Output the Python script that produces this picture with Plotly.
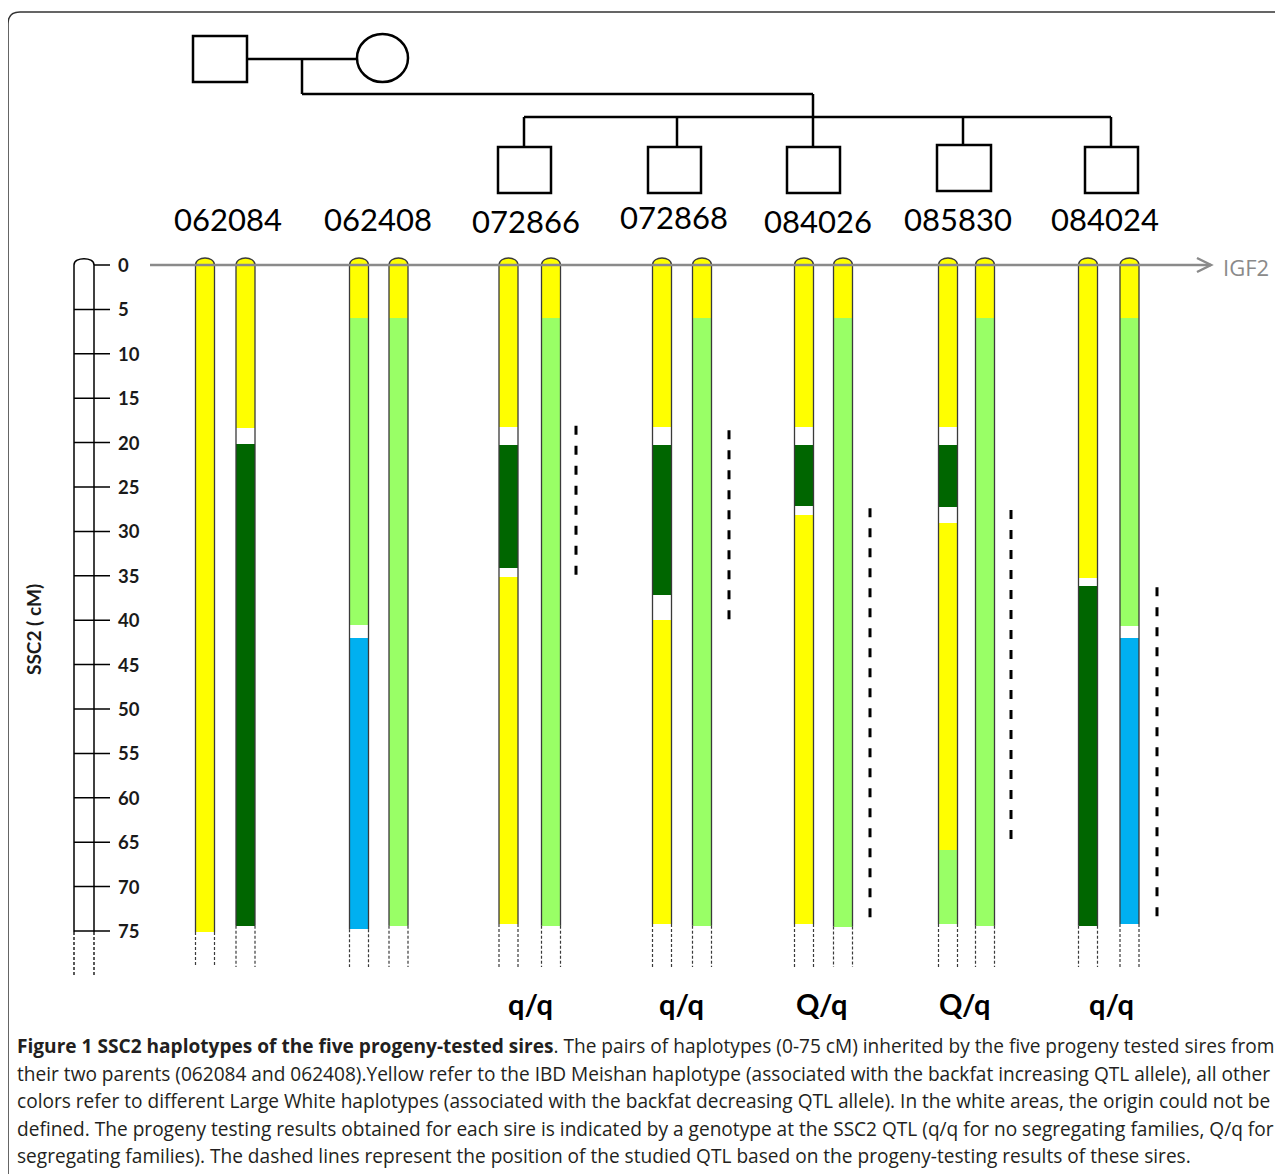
import plotly.graph_objects as go

# ---------------- DATA ----------------
sire_ids = ["062084", "062408", "072866", "072868", "084026", "085830", "084024"]
genotypes = ["", "", "q/q", "q/q", "Q/q", "Q/q", "q/q"]

# haplotype segments: (haplotype class, start cM, end cM)
# M = Meishan (IBD), LW1/LW2/LW3 = Large White haplotypes, U = origin undefined
hap_062084_a = [("M", 0, 75.1)]
hap_062084_b = [("M", 0, 18.4), ("U", 18.4, 20.2), ("LW2", 20.2, 74.4)]
hap_062408_a = [("M", 0, 6.0), ("LW1", 6.0, 40.5), ("U", 40.5, 42.0), ("LW3", 42.0, 74.8)]
hap_062408_b = [("M", 0, 6.0), ("LW1", 6.0, 74.4)]
hap_072866_a = [("M", 0, 18.2), ("U", 18.2, 20.3), ("LW2", 20.3, 34.1), ("U", 34.1, 35.1), ("M", 35.1, 74.2)]
hap_072866_b = [("M", 0, 6.0), ("LW1", 6.0, 74.4)]
hap_072868_a = [("M", 0, 18.2), ("U", 18.2, 20.3), ("LW2", 20.3, 37.2), ("U", 37.2, 40.0), ("M", 40.0, 74.2)]
hap_072868_b = [("M", 0, 6.0), ("LW1", 6.0, 74.4)]
hap_084026_a = [("M", 0, 18.2), ("U", 18.2, 20.3), ("LW2", 20.3, 27.1), ("U", 27.1, 28.1), ("M", 28.1, 74.2)]
hap_084026_b = [("M", 0, 6.0), ("LW1", 6.0, 74.5)]
hap_085830_a = [("M", 0, 18.2), ("U", 18.2, 20.3), ("LW2", 20.3, 27.2), ("U", 27.2, 29.1), ("M", 29.1, 65.9), ("LW1", 65.9, 74.2)]
hap_085830_b = [("M", 0, 6.0), ("LW1", 6.0, 74.4)]
hap_084024_a = [("M", 0, 35.3), ("U", 35.3, 36.1), ("LW2", 36.1, 74.4)]
hap_084024_b = [("M", 0, 6.0), ("LW1", 6.0, 40.6), ("U", 40.6, 42.0), ("LW3", 42.0, 74.2)]

haplotypes = [
    (hap_062084_a, hap_062084_b), (hap_062408_a, hap_062408_b),
    (hap_072866_a, hap_072866_b), (hap_072868_a, hap_072868_b),
    (hap_084026_a, hap_084026_b), (hap_085830_a, hap_085830_b),
    (hap_084024_a, hap_084024_b),
]

# QTL position intervals (cM) from progeny testing, for the five sires
qtl_start = [18.1, 18.6, 27.4, 27.6, 36.3]
qtl_end = [35.1, 40.3, 74.7, 65.5, 73.9]

ruler_ticks = list(range(0, 80, 5))

caption_lines = [
    "<b>Figure 1 SSC2 haplotypes of the five progeny-tested sires</b>. The pairs of haplotypes (0-75 cM) inherited by the five progeny tested sires from",
    "their two parents (062084 and 062408).Yellow refer to the IBD Meishan haplotype (associated with the backfat increasing QTL allele), all other",
    "colors refer to different Large White haplotypes (associated with the backfat decreasing QTL allele). In the white areas, the origin could not be",
    "defined. The progeny testing results obtained for each sire is indicated by a genotype at the SSC2 QTL (q/q for no segregating families, Q/q for",
    "segregating families). The dashed lines represent the position of the studied QTL based on the progeny-testing results of these sires.",
]

# ---------------- STYLE / LAYOUT ----------------
W, H = 1283, 1174
OFF = 8          # page body margin in the browser
PXCM = 8.88      # pixels per cM
Y0PX = 265       # pixel row of 0 cM


def cm(py):
    return (py - Y0PX) / PXCM


hap_colors = {"M": "#FFFF00", "LW1": "#99FF66", "LW2": "#006600", "LW3": "#00B0F0", "U": "#FFFFFF"}
bar_left = [(195.5, 236), (349.5, 389), (499, 541.5), (652.5, 692.5), (794.5, 833.5), (938.5, 975.5), (1078.5, 1120)]
BW = 19
qtl_x = [576, 729, 870, 1011, 1157]
label_x = [228, 378, 526, 674, 818, 958, 1105]
label_y = [219, 219, 221, 217, 221, 219, 219]
geno_x = [530, 681, 822, 965, 1111]
EDGE = "#3a3a3a"
LABEL_FONT = "Lato"

fig = go.Figure()
shapes = []
annotations = []

# chromosome bars (segments)
for sidx, pair in enumerate(haplotypes):
    for hidx, segs in enumerate(pair):
        left = bar_left[sidx][hidx]
        xc = left + BW / 2
        fig.add_trace(go.Bar(
            x=[xc] * len(segs),
            y=[e - s for _, s, e in segs],
            base=[s for _, s, e in segs],
            width=[BW] * len(segs),
            marker=dict(color=[hap_colors[c] for c, _, _ in segs], line=dict(width=0)),
            showlegend=False, hoverinfo="skip",
        ))
        end = segs[-1][2]
        top_col = hap_colors[segs[0][0]]
        k = 1.05
        shapes.append(dict(type="path", xref="x", yref="y",
                           path=f"M {left},0 C {left},{-k} {left+BW},{-k} {left+BW},0 Z",
                           fillcolor=top_col, line=dict(color=EDGE, width=1.3), layer="above"))
        for ex in (left, left + BW):
            shapes.append(dict(type="line", xref="x", yref="y", x0=ex, x1=ex, y0=0, y1=end,
                               line=dict(color=EDGE, width=1.3), layer="above"))
            shapes.append(dict(type="line", xref="x", yref="y", x0=ex, x1=ex, y0=end, y1=cm(967),
                               line=dict(color=EDGE, width=1.2, dash="3px,2px"), layer="above"))

# QTL dashed lines
for i in range(5):
    shapes.append(dict(type="line", xref="x", yref="y", x0=qtl_x[i], x1=qtl_x[i],
                       y0=qtl_start[i], y1=qtl_end[i],
                       line=dict(color="black", width=3, dash="9px,11px"), layer="above"))

# IGF2 line and arrow
GREY = "#8a8a8a"
shapes.append(dict(type="line", xref="x", yref="y", x0=150, x1=1211, y0=0, y1=0,
                   line=dict(color=GREY, width=2.5), layer="above"))
shapes.append(dict(type="path", xref="x", yref="y",
                   path=f"M 1197,{cm(258)} L 1211,0 L 1197,{cm(272)}",
                   line=dict(color=GREY, width=2.5), layer="above"))
annotations.append(dict(x=1221, y=cm(267), xref="x", yref="y", text="IGF2", showarrow=False,
                        xanchor="left", yanchor="middle",
                        font=dict(family="Open Sans", size=22, color=GREY)))

# ruler
RL, RR = 74, 94
shapes.append(dict(type="path", xref="x", yref="y",
                   path=f"M {RL},0 C {RL},{cm(256.5)} {RR},{cm(256.5)} {RR},0",
                   line=dict(color="black", width=1.5)))
for rx in (RL, RR):
    shapes.append(dict(type="line", xref="x", yref="y", x0=rx, x1=rx, y0=0, y1=75.1,
                       line=dict(color="black", width=1.5)))
    shapes.append(dict(type="line", xref="x", yref="y", x0=rx, x1=rx, y0=75.1, y1=cm(977),
                       line=dict(color="black", width=1.3, dash="3px,2px")))
for t in ruler_ticks:
    shapes.append(dict(type="line", xref="x", yref="y", x0=RR if t == 0 else RL, x1=110, y0=t, y1=t,
                       line=dict(color="black", width=1.5)))
    annotations.append(dict(x=116, y=t, xref="x", yref="y", text=str(t), showarrow=False,
                            xanchor="left", yanchor="middle",
                            font=dict(family=LABEL_FONT, size=18.5, color="#1a1a1a", weight="bold")))
annotations.append(dict(x=33, y=cm(630), xref="x", yref="y", text="SSC2 ( cM)", showarrow=False,
                        textangle=-90, xanchor="center", yanchor="middle",
                        font=dict(family=LABEL_FONT, size=19, color="#1a1a1a", weight="bold")))

# sire labels
for i, sid in enumerate(sire_ids):
    annotations.append(dict(x=label_x[i], y=cm(label_y[i]), xref="x", yref="y", text=sid,
                            showarrow=False, xanchor="center", yanchor="middle",
                            font=dict(family=LABEL_FONT, size=31, color="black")))
# genotype labels
for i, g in enumerate(genotypes[2:]):
    annotations.append(dict(x=geno_x[i], y=cm(1003), xref="x", yref="y", text=g,
                            showarrow=False, xanchor="center", yanchor="middle",
                            font=dict(family=LABEL_FONT, size=29, color="black", weight="bold")))

# pedigree
PL = dict(color="black", width=2.5)


def hline(x0, x1, py):
    shapes.append(dict(type="line", xref="x", yref="y", x0=x0, x1=x1, y0=cm(py), y1=cm(py), line=PL))


def vline(px, y0, y1):
    shapes.append(dict(type="line", xref="x", yref="y", x0=px, x1=px, y0=cm(y0), y1=cm(y1), line=PL))


def box(x0, x1, y0, y1):
    shapes.append(dict(type="rect", xref="x", yref="y", x0=x0, x1=x1, y0=cm(y0), y1=cm(y1),
                       line=PL, fillcolor="white"))


box(193, 247, 36, 82)
shapes.append(dict(type="circle", xref="x", yref="y", x0=357, x1=408, y0=cm(34), y1=cm(82),
                   line=PL, fillcolor="white"))
hline(247, 357, 59)
vline(302, 59, 94)
hline(302, 813, 94)
vline(813, 94, 117)
hline(524, 1111, 117)
drop_x = [524, 677, 813, 963, 1111]
for dx in drop_x:
    vline(dx, 117, 148 if dx == 963 else 147)
box(498, 551, 147, 193)
box(648, 701, 147, 193)
box(787, 840, 147, 193)
box(937, 991, 145, 191)
box(1085, 1138, 147, 193)

# outer frame (rounded corner, open to the right/bottom)
shapes.append(dict(type="path", xref="x", yref="y",
                   path=f"M 8,{cm(1190)} L 8,{cm(24)} Q 8,{cm(12)} 20,{cm(12)} L 1300,{cm(12)}",
                   line=dict(color="#333333", width=1.5)))

# caption
cap_y = [1046, 1074, 1101, 1129, 1156]
for ln, py in zip(caption_lines, cap_y):
    annotations.append(dict(x=15, y=cm(py), xref="x", yref="y", text=ln, showarrow=False,
                            xanchor="left", yanchor="middle",
                            font=dict(family="Open Sans", size=19.1, color="#231f20")))

fig.update_layout(
    width=W - OFF, height=H - OFF, margin=dict(l=0, r=0, t=0, b=0),
    paper_bgcolor="white", plot_bgcolor="white",
    barmode="overlay", bargap=0,
    xaxis=dict(range=[OFF, W], visible=False, fixedrange=True),
    yaxis=dict(range=[cm(H), cm(OFF)], visible=False, fixedrange=True),
    shapes=shapes, annotations=annotations, showlegend=False,
)

fig.write_html("out.html")
